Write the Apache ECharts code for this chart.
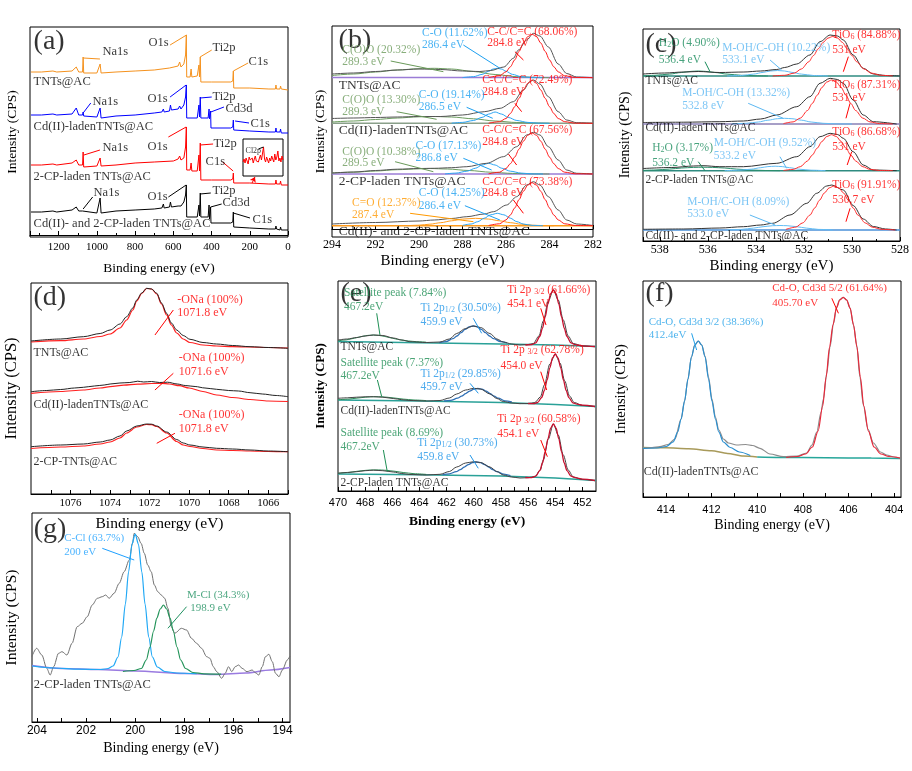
<!DOCTYPE html>
<html><head><meta charset="utf-8">
<script src="https://cdn.jsdelivr.net/npm/echarts@6/dist/echarts.min.js"></script>
<style>html,body{margin:0;padding:0;background:#fff}#c{width:912px;height:771px}</style>
</head><body><div id="c"></div>
<script>
// ---------------- DATA (binding energy eV, intensity a.u.) ----------------
// (a) survey spectra
const surveyTNT = [[1345,163],[1290,163],[1230,164],[1222,166],[1210,163],[1130,164],[1108,168],[1095,163],[1075,163],[1072,178],[1069,162],[1000,162],[990,163],[983,171],[978,162],[900,163],[800,164],[700,165],[620,167],[575,169],[567,173],[560,168],[545,171],[536,180],[532,200],[530,158],[512,158],[507,166],[503,158],[475,159],[468,160],[466,170],[463,158],[461,160],[459,178],[456,153],[400,153],[300,153],[289,154],[286,164],[284,147],[200,147],[100,146],[66,146],[63,150],[60,146],[42,146],[39,149],[35,146],[0,145]];
const surveyCd = [[1345,120],[1290,120],[1230,121],[1222,123],[1210,120],[1130,121],[1108,127],[1095,120],[1075,120],[1072,123],[1069,119],[1000,118],[990,119],[983,127],[978,117],[900,119],[800,120],[700,122],[660,123],[652,126],[648,123],[620,124],[615,130],[610,125],[575,126],[567,129],[560,126],[545,130],[536,138],[532,150],[530,117],[475,117],[468,118],[466,130],[463,118],[461,120],[459,138],[456,117],[418,117],[413,126],[411,116],[407,118],[405,124],[403,107],[300,107],[289,108],[286,115],[284,105],[200,104],[100,103],[66,103],[63,107],[60,103],[42,103],[39,106],[35,102],[0,102]];
const survey2CP = [[1345,70],[1290,70],[1230,71],[1222,73],[1210,70],[1130,72],[1108,75],[1095,70],[1075,70],[1072,83],[1069,68],[1000,69],[990,70],[983,77],[978,69],[900,70],[800,72],[700,73],[600,74],[575,76],[567,79],[560,75],[545,77],[536,88],[532,108],[530,65],[512,65],[507,72],[503,64],[475,64],[468,66],[466,80],[463,64],[461,66],[459,92],[456,55],[400,55],[300,55],[289,56],[286,62],[284,52],[200,52],[100,51],[66,51],[63,55],[60,51],[42,51],[39,54],[35,50],[0,50]];
const surveyCdCP = [[1345,23],[1290,23],[1230,24],[1222,25],[1210,23],[1130,25],[1108,28],[1095,24],[1075,24],[1072,26],[1069,23],[1000,22],[990,23],[983,37],[978,22],[900,24],[800,25],[700,26],[660,27],[652,31],[648,27],[620,28],[615,33],[610,28],[575,29],[567,31],[560,29],[545,33],[536,40],[532,50],[530,18],[475,18],[468,19],[466,30],[463,19],[461,20],[459,42],[456,18],[418,18],[413,30],[411,16],[407,18],[405,28],[403,12],[300,12],[289,13],[286,23],[284,8],[200,7],[100,6],[66,6],[63,9],[60,6],[42,5],[39,8],[35,5],[0,5]];
const insetCl2p = [14,17,13,18,15,12,19,16,14,18,13,17,20,15,16,14,18,21,16,15,29,17,14,19,16,13,18,15,20,17,14,22,16,19,25,15,18,14,20,16];

// (b) C1s
const b1Raw = [[294,155],[293,156],[292,157.5],[291,159],[290,160],[289,159.5],[288,158],[287.2,157.5],[286.7,158.5],[286.1,162],[285.66,170.7],[285.43,179],[285.05,189],[284.74,195.7],[284.44,193],[284.05,182],[283.6,165],[283.21,155.5],[282.75,152],[282,151.3]];
const b1CC = [[286.8,151.5],[286.3,153.2],[286,157.2],[285.8,162.2],[285.6,169.1],[285.4,177.6],[285.2,186],[285,192.4],[284.8,194.7],[284.6,192.4],[284.4,186],[284.2,177.6],[284,169.1],[283.8,162.2],[283.6,157.2],[283.3,153.2],[282.8,151.5],[282,151.3]];
const b1CO = [[288,151.4],[287.5,152.3],[287.1,154.6],[286.8,157.7],[286.6,159.9],[286.4,160.7],[286.2,159.9],[286,157.7],[285.7,154.6],[285.3,152.3],[284.8,151.4],[284.3,151.3]];
const b1COO = [[294,153.5],[293,155],[292,157],[291,159],[290,160.3],[289.3,160.7],[288.5,160],[287.5,157.5],[286.5,154.5],[285.5,152.3],[284.5,151.5],[284,151.3]];
const b2Raw = [[294,110.5],[293,111],[292,111.5],[291,112],[290,112.5],[289,112.5],[288,114],[287,117.3],[286.27,120.7],[285.66,127.3],[285.2,139],[284.9,147.3],[284.74,149],[284.44,145],[284.05,132.3],[283.6,117.3],[283.21,109],[282.75,106.3],[282,105.7]];
const b2CC = [[286.8,105.8],[286.3,107.3],[286,110.5],[285.8,115.5],[285.6,122.3],[285.4,130.7],[285.2,139],[285,145.6],[284.8,149],[284.6,145.6],[284.4,139],[284.2,130.7],[284,122.3],[283.8,115.5],[283.6,110.5],[283.3,107.3],[282.8,105.8],[282,105.7]];
const b2CO = [[288.5,105.8],[288,106.6],[287.5,108.5],[287.1,111.6],[286.8,114.9],[286.5,117],[286.2,114.9],[285.9,111.6],[285.5,108.5],[285,106.6],[284.5,105.8],[284,105.7]];
const b2COO = [[294,107],[293,108],[292,109.5],[291,111],[290,112.2],[289.3,112.5],[288.5,112],[287.5,110.2],[286.5,108],[285.5,106.5],[284.5,105.9],[284,105.7]];
const b3Raw = [[294,56],[293,57],[292,58.5],[291,59.8],[290,60.5],[289.3,60.7],[288.5,61.3],[287.8,62.3],[286.89,65.7],[286.12,72.3],[285.51,82.3],[285.05,94],[284.74,96.7],[284.44,94],[284.05,82.3],[283.6,69],[283.21,59],[282.75,55.7],[282,55]];
const b3CC = [[286.8,55.2],[286.3,56.8],[286,60.5],[285.8,65.3],[285.6,71.9],[285.4,79.9],[285.2,87.8],[285,93.8],[284.8,96],[284.6,93.8],[284.4,87.8],[284.2,79.9],[284,71.9],[283.8,65.3],[283.6,60.5],[283.3,56.8],[282.8,55.2],[282,55]];
const b3CO = [[288.8,55.1],[288.3,55.9],[287.8,57.8],[287.4,60.8],[287.1,64],[286.8,65.7],[286.5,64],[286.2,60.8],[285.8,57.8],[285.3,55.9],[284.8,55.1],[284.3,55]];
const b3COO = [[294,56],[293,56.8],[292,58],[291,59.3],[290,60.2],[289.5,60.5],[288.7,60],[287.7,58.5],[286.7,56.8],[285.7,55.6],[284.7,55.1],[284,55]];
const b4Raw = [[294,5],[292,6.5],[290,8],[289.3,9],[288.5,10.5],[287.8,12.3],[287,15],[286.58,17.3],[285.97,24],[285.51,32.3],[285.05,44],[284.74,47.3],[284.44,44],[284.05,32.3],[283.6,19],[283.21,9],[282.75,5],[282,3.5]];
const b4CC = [[286.8,3.5],[286.3,5.2],[286,9.1],[285.8,14],[285.6,21],[285.4,29.4],[285.2,37.7],[285,44],[284.8,46.3],[284.6,44],[284.4,37.7],[284.2,29.4],[284,21],[283.8,14],[283.6,9.1],[283.3,5.2],[282.8,3.5],[282,3.3]];
const b4CO = [[288,3.6],[287.6,5],[287.3,7.3],[287,10.8],[286.7,14.2],[286.4,15.7],[286.1,14.2],[285.8,10.8],[285.5,7.3],[285.2,5],[284.8,3.6],[284.3,3.3]];
const b4CdO = [[290.5,3.4],[290,3.8],[289.5,4.8],[289,6.3],[288.5,8.2],[288,9.9],[287.4,10.7],[286.8,9.9],[286.3,8.2],[285.8,6.3],[285.3,4.8],[284.8,3.8],[284.3,3.4],[283.8,3.3]];
const bBase = [151.5, 105.7, 55, 3.3];

// (c) O1s
const c1Raw = [[538.7,167],[537.8,168],[537,169],[536.4,169.5],[535.5,168.5],[534.5,169],[533.8,170],[533.13,171.5],[532.8,173.5],[532.3,177],[531.75,186],[531.33,199.3],[530.91,206],[530.6,205],[530.36,201],[529.95,186],[529.53,172.7],[529.11,167],[528.6,165.5],[528,165]];
const c1Ti = [[533.3,165],[532.8,165.7],[532.4,167.9],[532.1,172.1],[531.8,179.2],[531.6,185.5],[531.4,192.3],[531.2,198.6],[531,202.9],[530.8,204.5],[530.6,202.9],[530.4,198.6],[530.2,192.3],[530,185.5],[529.8,179.2],[529.5,172.1],[529.2,167.9],[528.8,165.7],[528.3,165]];
const c1OH = [[535.2,165],[534.6,165.5],[534.1,166.9],[533.7,168.6],[533.4,170],[533.1,170.5],[532.8,170],[532.5,168.6],[532.1,166.9],[531.6,165.5],[531,165]];
const c1H2O = [[538.7,165.2],[538.2,165.7],[537.6,166.9],[537.1,168.5],[536.7,169.6],[536.4,170],[536.1,169.6],[535.7,168.5],[535.2,166.9],[534.6,165.7],[534,165.2],[533.5,165]];
const c2Raw = [[538.7,118.5],[537,118.8],[535.5,119.3],[534.52,120],[533.8,122],[533.13,126],[532.3,134.3],[531.75,144.3],[531.33,157.7],[530.91,162.7],[530.6,161.5],[530.36,157.7],[529.95,141],[529.53,126],[529.11,119.3],[528.14,117]];
const c2Ti = [[532.85,117.4],[532.45,119.1],[532.15,122.9],[531.85,130.5],[531.65,137.6],[531.45,145.7],[531.25,153.5],[531.05,159],[530.85,161],[530.65,159],[530.45,153.5],[530.25,145.7],[530.05,137.6],[529.85,130.5],[529.55,122.9],[529.25,119.1],[528.85,117.4],[528.3,117]];
const c2OH = [[535,117.1],[534.4,117.7],[533.9,119],[533.5,120.8],[533.1,122.3],[532.8,122.7],[532.5,122.3],[532.1,120.8],[531.7,119],[531.2,117.7],[530.6,117.1],[530,117]];
const c3Raw = [[538.7,72.5],[537.5,73.5],[536.6,75],[536.2,75.3],[535.5,74.3],[534.52,74.3],[533.13,77.7],[532.3,84.3],[531.75,94.3],[531.33,104.3],[530.91,107.7],[530.6,106.5],[530.36,102.7],[529.95,89.3],[529.53,76],[529.11,71],[528.14,70.3]];
const c3Ti = [[532.85,70.5],[532.45,71.6],[532.15,74.3],[531.85,80.1],[531.65,86],[531.45,92.8],[531.25,99.5],[531.05,104.5],[530.85,106.3],[530.65,104.5],[530.45,99.5],[530.25,92.8],[530.05,86],[529.85,80.1],[529.55,74.3],[529.25,71.6],[528.85,70.5],[528.3,70.3]];
const c3OH = [[535.3,70.3],[534.7,70.8],[534.2,71.8],[533.8,73.3],[533.5,74.4],[533.2,74.8],[532.9,74.4],[532.6,73.3],[532.2,71.8],[531.7,70.8],[531.1,70.3]];
const c3H2O = [[538.7,70.6],[538.2,71],[537.6,71.9],[537.1,73],[536.6,73.6],[536.2,73.8],[535.8,73.6],[535.3,73],[534.8,71.9],[534.2,71],[533.6,70.5],[533,70.3]];
const c4Raw = [[538.7,11.7],[537,12],[535.5,13],[534.52,14.3],[533.8,16],[533.3,17.7],[532.58,26],[531.88,37.7],[531.47,47.7],[531.05,55],[530.84,56],[530.36,51],[529.95,35.5],[529.53,22],[529.11,14.5],[528.6,12],[528.14,11]];
const c4Ti = [[532.75,11.6],[532.35,13.8],[532.05,18.1],[531.75,25.9],[531.55,33],[531.35,40.8],[531.15,48],[530.95,53.1],[530.75,55],[530.55,53.1],[530.35,48],[530.15,40.8],[529.95,33],[529.75,25.9],[529.45,18.1],[529.15,13.8],[528.75,11.6],[528.2,11]];
const c4OH = [[535.2,11],[534.6,11.6],[534.1,12.9],[533.7,14.3],[533.3,15.3],[533,15.5],[532.7,15.3],[532.3,14.3],[531.9,12.9],[531.4,11.6],[530.8,11]];
const cBase = [165, 117, 70.3, 11];

// (d) Na1s
const d1Raw = [[1078,153],[1076.5,155],[1075.35,157.3],[1074.5,160.5],[1074,164],[1073.5,170],[1073.16,177.3],[1072.85,186],[1072.65,194],[1072.4,201],[1072.15,205.7],[1071.9,205],[1071.64,200.7],[1071.4,191],[1071.14,180.7],[1070.9,171],[1070.63,164],[1070.3,158.5],[1069.96,154.7],[1069.3,151.5],[1068.61,150],[1067.8,148.5],[1066.92,147.3],[1066,146.5],[1065,145.7]];
const d1Fit = [[1078,152],[1076.5,153.3],[1075.35,155],[1074.5,157.5],[1074,160],[1073.5,166],[1073.16,174],[1072.85,184],[1072.65,193],[1072.4,200.5],[1072.15,205.5],[1071.9,205],[1071.64,200],[1071.4,190],[1071.14,179],[1070.9,169],[1070.63,161],[1070.3,155],[1069.96,151.5],[1069.3,149],[1068.61,148],[1067.8,147.3],[1066.92,147],[1066,146.5],[1065,146]];
const d2Raw = [[1078,102.3],[1077.2,103.5],[1076.5,104.5],[1075.8,106],[1075.35,106.7],[1074.8,108],[1074.3,109],[1074,110],[1073.5,111],[1073,111.5],[1072.6,112.8],[1072.3,112],[1071.9,112.5],[1071.5,111.5],[1071.1,111.8],[1070.6,110],[1070.2,108.5],[1069.7,107.5],[1069.2,106],[1068.61,104.7],[1068,103.5],[1067.5,103],[1066.92,101.3],[1066.3,100],[1065.6,98.5],[1065,97.3]];
const d2Fit = [[1078,100.7],[1076.5,102.5],[1075.35,104],[1074.5,106],[1074,107.3],[1073.3,108.8],[1072.6,109.8],[1071.9,110.5],[1071.4,110.7],[1071,110],[1070.5,108.3],[1070,106],[1069.3,102.5],[1068.61,99],[1067.8,96.5],[1066.92,94.5],[1066,93],[1065,92.5]];
const d3Raw = [[1078,47.3],[1076.5,49],[1075.35,50],[1074.5,52],[1074,54],[1073.5,58],[1073.16,63],[1072.65,68],[1072.15,70],[1071.9,69.8],[1071.64,68],[1071.14,62],[1070.63,54.5],[1070.3,51],[1069.96,49],[1069.3,47],[1068.61,45.7],[1067.8,45],[1066.92,44],[1066,43],[1065,42.3]];
const d3Fit = [[1078,45.5],[1076.5,47],[1075.35,48],[1074.5,50],[1074,52],[1073.5,56],[1073.16,61],[1072.65,67],[1072.15,69.5],[1071.9,69.3],[1071.64,67.5],[1071.14,61],[1070.63,52.5],[1070.3,49],[1069.96,47.5],[1069.3,45.5],[1068.61,44],[1067.8,43.5],[1066.92,43],[1066,42.5],[1065,42.3]];

// (e) Ti2p
const e1Raw = [[470,151],[469.3,152],[468.63,153.5],[468,155],[467.4,156],[466.7,155.5],[465.93,153],[465.3,151],[464.7,149.3],[463.5,148.5],[462.49,149],[461.8,152],[461.26,157.5],[460.6,162.5],[460.04,165],[459.5,163.5],[458.81,157.5],[458.3,152],[457.83,149],[457.2,147],[456.6,146],[456,146.5],[455.62,147.5],[455.2,155],[454.88,170],[454.51,190],[454.14,201],[453.78,191],[453.41,171],[453.05,155],[452.67,147.5],[452,145],[451.07,144.3]];
const e1P32 = [[456.2,146],[455.74,146.3],[455.44,148.2],[455.14,154.5],[454.94,162.8],[454.74,174.3],[454.54,187.1],[454.34,197.3],[454.14,201],[453.94,197.3],[453.74,187.1],[453.54,174.3],[453.34,162.8],[453.14,154.5],[452.84,148.2],[452.54,146.3],[452,145.2],[451.07,144.5]];
const e1P12 = [[462.54,148.3],[462.04,149.4],[461.54,152.3],[461.24,155],[460.94,158.3],[460.64,161.6],[460.34,164.1],[460.04,165],[459.74,164.1],[459.44,161.6],[459.14,158.3],[458.84,155],[458.54,152.3],[458.04,149.4],[457.54,148]];
const e1Sat = [[470,150.1],[469.4,151.1],[469,152.2],[468.6,153.4],[468.2,154.7],[467.8,155.6],[467.4,156],[467,155.6],[466.6,154.7],[466.2,153.4],[465.8,152.2],[465.4,151.1],[464.8,150],[464.2,149.3],[463.5,148.8]];
const e1Base = [[470,149.5],[464,148.3],[458,147],[454,146],[451,144.5]];
const e2Raw = [[470,92.7],[469.3,93.2],[468.63,93.8],[468,94.2],[467.4,94.3],[466.7,93.8],[465.93,92.5],[465.3,91.3],[464.7,90.5],[463.5,90],[462.49,90.5],[461.8,93],[461.26,97],[460.6,101],[460,102.7],[459.5,102],[458.81,97],[458.3,92.5],[457.83,89.5],[457.2,88],[456.6,87.3],[456,87.5],[455.5,88.5],[455.1,94],[454.8,106],[454.4,127],[454,137],[453.65,128],[453.3,110],[452.95,95],[452.6,88.5],[452,85.5],[451.07,84.3]];
const e2P32 = [[456,87.5],[455.6,87.3],[455.3,88.5],[455,93.5],[454.8,100.5],[454.6,111.1],[454.4,123.2],[454.2,133.1],[454,137],[453.8,133.1],[453.6,123.2],[453.4,111.1],[453.2,100.5],[453,93.3],[452.7,88.2],[452.4,86.8],[452,85.8],[451.07,84.5]];
const e2P12 = [[462.2,90],[461.7,90.6],[461.2,92.8],[460.9,94.8],[460.6,97.4],[460.3,99.9],[460,101.8],[459.7,102.5],[459.4,101.8],[459.1,99.9],[458.8,97.4],[458.5,94.8],[458.2,92.8],[457.7,90.2],[457.2,89]];
const e2Sat = [[470,91.2],[469.2,91.9],[468.6,92.9],[468,93.8],[467.6,94.2],[467.2,94.3],[466.8,94.2],[466.4,93.8],[465.8,92.9],[465.2,91.9],[464.4,91],[463.5,90.4]];
const e2Base = [[470,91],[464,90],[458,88.5],[454,86.5],[451,84.5]];
const e3Raw = [[470,17.7],[469.3,18.5],[468.63,19.3],[468,20.3],[467.4,20.8],[466.7,20.3],[465.93,19],[465.3,17.5],[464.7,16.5],[463.5,16],[462.49,16.7],[461.8,19.5],[461.26,24],[460.6,28],[460,29.3],[459.5,28.5],[458.81,24],[458.3,19.5],[457.83,16],[457.2,14],[456.6,13],[456,13.3],[455.5,14.5],[455.1,21],[454.88,31],[454.51,52],[454.14,67],[453.78,56],[453.41,36],[453.05,21],[452.67,14],[452,11.5],[451.07,10.3]];
const e3P32 = [[456.2,13.5],[455.74,13.3],[455.44,14.8],[455.14,20.3],[454.94,28],[454.74,39.3],[454.54,52.2],[454.34,62.8],[454.14,67],[453.94,62.8],[453.74,52.2],[453.54,39.3],[453.34,28],[453.14,20.3],[452.84,14.8],[452.54,13.3],[452,11.8],[451.07,10.5]];
const e3P12 = [[462.3,16.4],[461.8,17.2],[461.3,19.3],[461,21.3],[460.7,23.9],[460.4,26.4],[460.1,28.3],[459.8,29],[459.5,28.3],[459.2,26.4],[458.9,23.9],[458.6,21.3],[458.3,19.3],[457.8,16.8],[457.3,15.3]];
const e3Sat = [[470,17.8],[469.2,18.6],[468.6,19.7],[468,20.6],[467.6,21],[467.2,21.1],[466.8,21],[466.4,20.6],[465.8,19.7],[465.2,18.5],[464.4,17.3],[463.5,16.6]];
const e3Base = [[470,17],[464,16.3],[458,15],[454,13],[451,10.5]];

// (f) Cd3d
const fRaw = [[415,48.7],[414.6,49.3],[414.26,50.3],[413.9,52.5],[413.6,58],[413.33,78],[413.18,96],[413.03,118],[412.88,140],[412.73,152],[412.58,156],[412.43,152],[412.28,141],[412.13,120],[411.98,98],[411.83,80],[411.68,67],[411.48,58],[411.26,54],[410.9,52],[410.5,52.5],[410.2,51.5],[409.88,48.7],[409.44,43],[408.85,40.3],[408.27,40.8],[407.83,44],[407.6,52],[407.39,65],[407.2,85],[407.1,98],[406.95,124],[406.81,150],[406.65,174],[406.52,190],[406.38,197.5],[406.23,199.7],[406.08,197],[405.93,189],[405.78,172],[405.64,152],[405.5,120],[405.35,92],[405.15,68],[404.91,54],[404.6,45],[404.33,42],[404,40],[403.74,38.7]];
const fCd52 = [[408.73,39.5],[408.23,40.5],[407.88,43],[407.58,50],[407.33,66],[407.13,91],[406.98,120],[406.83,150],[406.68,172],[406.53,189],[406.38,197],[406.23,199.7],[406.08,197],[405.93,189],[405.78,172],[405.63,150],[405.48,120],[405.33,91],[405.13,66],[404.88,50],[404.58,43],[404.23,40.5],[403.74,39]];
const fCd32 = [[415,48.7],[414.38,49],[413.98,50.5],[413.68,55],[413.48,65],[413.33,78],[413.18,96],[413.03,118],[412.88,140],[412.73,152],[412.58,156],[412.43,152],[412.28,140],[412.13,118],[411.98,96],[411.83,78],[411.68,65],[411.48,55],[411.18,49.5],[410.78,45],[410.3,41.5]];
const fBaseHigh = [[415,49.5],[414,49.2],[413,48.3],[412,46.3],[411.3,43.5],[410.6,41],[410,40]];
const fBaseLow = [[410,40],[409,39.6],[407,39.3],[405,38.9],[403.74,38.6]];

// (g) Cl2p
const gRaw = [[204.21,65.3],[204.01,73.7],[203.8,67],[203.6,53.7],[203.46,47],[203.32,55.3],[203.12,68.7],[202.98,70.3],[202.78,67],[202.57,78.7],[202.36,95.3],[202.16,98.7],[201.95,105.3],[201.75,117],[201.54,123.7],[201.34,125.3],[201.2,127],[201.06,123.7],[200.86,128.7],[200.65,138.7],[200.45,150.3],[200.24,162],[200.11,178.7],[200.04,188.7],[199.9,185.3],[199.76,178.7],[199.63,168.7],[199.49,157],[199.35,150.3],[199.22,137],[199.08,130.3],[198.94,127],[198.8,123.7],[198.67,113.7],[198.53,95.3],[198.39,88.7],[198.12,93.7],[197.91,92],[197.71,83.7],[197.5,78.7],[197.3,73.7],[197.09,65.3],[196.96,63.7],[196.82,55.3],[196.68,50.3],[196.48,43.7],[196.34,48.7],[196.2,55.3],[196.07,50.3],[195.93,55.3],[195.79,57],[195.65,53.7],[195.45,50.3],[195.24,52],[195.11,49.3],[194.97,47],[194.83,55.3],[194.7,65.3],[194.56,67.7],[194.42,60.3],[194.29,48.7],[194.15,45.3],[194.01,52],[193.81,62],[193.7,66]];
const gCCl = [[204.2,56],[203.3,54],[202.3,52.8],[201.4,52.5],[201.1,53.5],[200.9,56],[200.7,65],[200.55,85],[200.4,118],[200.27,150],[200.13,178],[200,188],[199.87,178],[199.73,150],[199.6,118],[199.45,85],[199.3,65],[199.1,55],[198.8,50.5],[198.3,49],[197.5,48.3]];
const gMCl = [[200.5,50.5],[200.05,51.5],[199.75,53.5],[199.55,62],[199.4,75],[199.25,91],[199.12,104],[198.98,113],[198.85,117],[198.72,113],[198.58,104],[198.45,91],[198.3,75],[198.15,62],[197.95,53.5],[197.65,49.5],[197.2,48.2],[196.5,47.8]];
const gBase = [[204.2,56.5],[203,53.5],[201.5,52.5],[200,51],[198,48.5],[196.7,47.5],[195.5,49],[194.5,52],[193.7,54.5]];

// tick labels
const ticksD = [1066,1068,1070,1072,1074,1076];
const ticksE = [452,454,456,458,460,462,464,466,468,470];
const ticksF = [404,406,408,410,412,414];
const ticksG = [194,196,198,200,202,204];

// ---------------- ANNOTATIONS (text, x, y, colour key, size) ----------------
const annA = [['(a)',1334,193,'k',28],['Na1s',973,183,'k'],['O1s',733,192,'k'],['Ti2p',398,187,'k'],['C1s',209,173,'k'],['TNTs@AC',1334,153,'k'],
 ['Na1s',1026,133,'k'],['O1s',738,136,'k'],['Ti2p',398,138,'k'],['Cd3d',330,126,'k'],['C1s',199,111,'k'],['Cd(II)-ladenTNTs@AC',1334,108,'k'],
 ['Na1s',973,87,'k'],['O1s',738,88,'k'],['Ti2p',392,91,'k'],['C1s',434,73,'k'],['2-CP-laden TNTs@AC',1334,58,'k'],
 ['Na1s',1020,42,'k'],['O1s',738,38,'k'],['Ti2p',398,44,'k'],['Cd3d',345,32,'k'],['C1s',188,15,'k'],['Cd(II)- and 2-CP-laden TNTs@AC',1334,11,'k']];
const leadA = [[984,176,1071,177,'o'],[617,190,531,200,'o'],[399,185,460,178,'o'],[209,172,286,164,'o'],
 [1032,132,1072,122,'sb'],[617,138,533,150,'sb'],[399,138,460,137,'sb'],[335,128,404,123,'sb'],[204,112,277,114,'sb'],
 [984,85,1068,80,'r'],[626,98,533,108,'r'],[392,91,460,90,'r'],[342,73,287,64,'r'],
 [1022,38,1072,26,'k'],[626,38,533,50,'k'],[404,42,460,41,'k'],[347,31,405,28,'k'],[199,17,286,22,'k']];
const annInset = [['Cl2p',2,25,'k',8]];
const leadInset = [[15,27,20,29,'k']];
const arrowA = [[188,52,173,58,'r']];

const annB = [['(b)',293.72,188,'k',28],['C(O)O (20.32%)',293.55,179,'bg'],['289.3 eV',293.55,167.3,'bg'],['C-O (11.62%)',289.88,196.3,'bb'],['286.4 eV',289.88,184,'bb'],
 ['C-C/C=C (68.06%)',286.89,197.3,'r'],['284.8 eV',286.89,185.7,'r'],['TNTs@AC',293.71,144,'k',13.5],
 ['C-C/C=C (72.49%)',287.12,149,'r'],['284.8 eV',287.12,137.3,'r'],['C(O)O (13.30%)',293.55,129,'bg'],['289.3 eV',293.55,117.3,'bg'],['C-O (19.14%)',290.03,134,'bb'],['286.5 eV',290.03,121.7,'bb'],['Cd(II)-ladenTNTs@AC',293.71,99,'k',13.5],
 ['C-C/C=C (67.56%)',287.12,99,'r'],['284.8 eV',287.12,87.3,'r'],['C(O)O (10.38%)',293.55,77.3,'bg'],['289.5 eV',293.55,65.7,'bg'],['C-O (17.13%)',290.18,83.3,'bb'],['286.8 eV',290.18,70.7,'bb'],['2-CP-laden TNTs@AC',293.71,47.3,'k',13.5],
 ['C-C/C=C (73.38%)',287.12,47.3,'r'],['284.8 eV',287.12,35.7,'r'],['C=O (12.37%)',293.1,26.3,'bo'],['287.4 eV',293.1,14,'bo'],['C-O (14.25%)',290.03,35.7,'bb'],['286.4 eV',290.03,23.3,'bb'],['Cd(II)- and 2-CP-laden TNTs@AC',293.71,-2,'k',13.5]];
const leadB = [[291.3,168,288.88,157.3,'bg'],[287.96,184,286.28,160.7,'bb'],[285.59,177.3,285.2,169,'r'],
 [285.59,125.7,285.28,117.3,'r'],[291.03,117.3,289.19,109.7,'bg'],[287.81,121.7,286.61,110.7,'bb'],
 [285.89,75,285.51,64,'r'],[291.1,67.3,289.34,57.3,'bg'],[287.96,70.7,286.66,59,'bb'],
 [285.66,29,285.2,15.7,'r'],[290.41,15.7,287.5,7.3,'bo'],[287.89,23.3,286.28,9,'bb']];

const annC = [['(c)',538.62,196,'k',28],['H_{2}O (4.90%)',538.06,197.7,'cg'],['536.4 eV',538.06,181,'cg'],['M-OH/C-OH (10.22%)',535.42,192.7,'cb'],['533.1 eV',535.42,181,'cb'],
 ['TiO_{6} (84.88%)',530.84,206,'r'],['531 eV',530.84,191,'r'],['TNTs@AC',538.62,160.3,'k'],
 ['TiO_{6} (87.31%)',530.84,156,'r'],['531 eV',530.84,142.7,'r'],['M-OH/C-OH (13.32%)',537.09,147.7,'cb'],['532.8 eV',537.09,135,'cb'],['Cd(II)-ladenTNTs@AC',538.62,112.7,'k'],
 ['TiO_{6} (86.68%)',530.84,108.7,'r'],['531 eV',530.84,94.3,'r'],['H_{2}O (3.17%)',538.34,92.7,'cg'],['536.2 eV',538.34,77.7,'cg'],['M-OH/C-OH (9.52%)',535.77,97.7,'cb'],['533.2 eV',535.77,85,'cb'],['2-CP-laden TNTs@AC',538.62,61,'k'],
 ['TiO_{6} (91.91%)',530.84,56,'r'],['530.7 eV',530.84,41,'r'],['M-OH/C-OH (8.09%)',536.88,38.7,'cb'],['533.0 eV',536.88,26.7,'cb'],['Cd(II)- and 2-CP-laden TNTs@AC',538.62,5,'k']];
const leadC = [[536.12,179.3,535.91,169.3,'cg'],[533.41,181,532.93,171,'cb'],[530.15,184.3,530.36,169.3,'r'],
 [530.08,137.7,530.25,122.7,'r'],[534.32,137.7,532.86,122.7,'cb'],
 [530.01,89.3,530.2,76,'r'],[536.4,79.3,536.12,70.3,'cg'],[533,84.3,532.72,72.7,'cb'],
 [530.08,32.7,530.25,19.3,'r'],[534.25,26,533.2,16,'cb']];

const annD = [['(d)',1077.9,196,'k',28],['-ONa (100%)',1070.63,194,'r'],['1071.8 eV',1070.63,180.7,'r'],['TNTs@AC',1077.9,141.3,'k'],
 ['-ONa (100%)',1070.55,135.7,'r'],['1071.6 eV',1070.55,122.3,'r'],['Cd(II)-ladenTNTs@AC',1077.9,89,'k'],
 ['-ONa (100%)',1070.55,79,'r'],['1071.8 eV',1070.55,64.7,'r'],['2-CP-TNTs@AC',1077.9,32.3,'k']];
const leadD = [[1070.8,184,1071.73,159,'r'],[1070.8,120.7,1071.73,104,'r'],[1070.72,60.7,1071.64,50.7,'r']];

const annE = [['(e)',469.85,197.7,'k',28],['Satellite peak (7.84%)',469.6,197.7,'eg'],['467.2eV',469.6,184.3,'eg'],['Ti 2p_{1/2} (30.50%)',463.96,182.7,'eb'],['459.9 eV',463.96,169.3,'eb'],
 ['Ti 2p _{3/2} (61.66%)',457.58,201,'r'],['454.1 eV',457.58,187,'r'],['TNTs@AC',469.85,144.3,'k'],
 ['Satellite peak (7.37%)',469.85,128.3,'eg'],['467.2eV',469.85,115,'eg'],['Ti 2p_{1/2} (29.85%)',463.96,116.7,'eb'],['459.7 eV',463.96,103.7,'eb'],['Ti 2p _{3/2} (62.78%)',458.07,141,'r'],['454.0 eV',458.07,125,'r'],['Cd(II)-ladenTNTs@AC',469.85,80.3,'k'],
 ['Satellite peak (8.69%)',469.85,57.7,'eg'],['467.2eV',469.85,44.3,'eg'],['Ti 2p_{1/2} (30.73%)',464.2,47.7,'eb'],['459.8 eV',464.2,34.3,'eb'],['Ti 2p _{3/2} (60.58%)',458.31,71.7,'r'],['454.1 eV',458.31,57,'r'],['2-CP-laden TNTs@AC',469.85,7.7,'k']];
const leadE = [[467.15,177.7,466.91,156,'eg'],[460.04,172.7,459.42,157.7,'eb'],[455.07,182.7,454.68,166,'r'],
 [467.1,111,466.78,94.3,'eg'],[460.28,107.7,459.67,97.7,'eb'],[455.07,119.3,454.63,101,'r'],
 [466.66,41,466.37,19.3,'eg'],[460.28,36,459.67,22.7,'eb'],[455.07,51,454.58,34.3,'r']];

const annF = [['(f)',414.91,203.7,'k',28],['Cd-O, Cd3d 5/2 (61.64%)',409.36,208.7,'r'],['405.70 eV',409.36,193.7,'r'],['Cd-O, Cd3d 3/2 (38.36%)',414.77,175.3,'fb'],['412.4eV',414.77,162,'fb'],['Cd(II)-ladenTNTs@AC',414.99,25.3,'k',12]];
const leadF = [[406.73,198.7,406.44,183.7,'r'],[412.87,163.7,412.65,147,'fb']];

const annG = [['(g)',204.15,192,'k',28],['C-Cl (63.7%)',202.91,183.7,'gb'],['200 eV',202.91,170.3,'gb'],['M-Cl (34.3%)',197.91,127,'gg'],['198.9 eV',197.78,114.3,'gg'],['2-CP-laden TNTs@AC',204.15,37,'k',12.5]];
const leadG = [[201.34,173.7,200.04,162,'gb'],[197.91,115.3,198.67,93.7,'gg']];

// ---------------- STYLE ----------------
const SERIF = '"Liberation Serif","Times New Roman",serif';
const SANS = '"Liberation Sans",Arial,sans-serif';
const COL = {k:'#000000',o:'#f5921e',sb:'#0000ff',r:'#ff0000',bg:'#6a9a5a',bb:'#1ea0f0',bo:'#ff9900',cg:'#1a8c5c',cb:'#5cb8f2',eg:'#1f8f55',eb:'#2196e8',fb:'#22a0e8',gb:'#1ea0ff',gg:'#1f9060'};

const grids = [
  {left:30, top:27, width:258, height:210},
  {left:332, top:26, width:261, height:211},
  {left:643, top:29, width:257, height:212},
  {left:31, top:283, width:257, height:211},
  {left:338, top:281, width:258, height:210},
  {left:643, top:281, width:258, height:216},
  {left:32, top:513, width:258, height:209},
  {left:243, top:139, width:40, height:37}
].map(g => Object.assign({show:true, borderColor:'#000', borderWidth:1, backgroundColor:'transparent'}, g));

function xAxis(gi, min, max, o) {
  const ax = {
    gridIndex:gi, type:'value', min, max, inverse:true,
    axisLine:{show:true, lineStyle:{color:'#000', width:1}},
    axisTick:{show:true, inside:true, length:4, lineStyle:{color:'#000'}},
    axisLabel:{color:'#000', fontFamily:o.lf||SERIF, fontSize:o.ls||11, margin:o.lm||5, formatter: v => String(v)},
    splitLine:{show:false},
    name:'Binding energy (eV)', nameLocation:'middle', nameGap:o.ng,
    nameTextStyle:{color:'#000', fontFamily:SERIF, fontSize:o.ns||14, fontWeight:o.nb?'bold':'normal', padding:o.np||0}
  };
  if (o.interval) { ax.interval = o.interval; ax.minorTick = {show:true, splitNumber:2, length:2, lineStyle:{color:'#000'}}; }
  if (o.labels) { ax.axisLabel.customValues = o.labels; ax.axisTick.customValues = o.tickv || o.labels; }
  if (o.hideMax) ax.axisLabel.showMaxLabel = false;
  return ax;
}
function yAxis(gi, min, max, o) {
  return {gridIndex:gi, type:'value', min, max,
    axisLine:{show:false}, axisTick:{show:false}, axisLabel:{show:false}, splitLine:{show:false},
    name:'Intensity (CPS)', nameLocation:'middle', nameGap:o.ng,
    nameTextStyle:{color:'#000', fontFamily:SERIF, fontSize:o.ns||14, fontWeight:o.nb?'bold':'normal'}};
}
function ints(a, b) { const r=[]; for (let v=a; v<=b; v++) r.push(v); return r; }

const xAxes = [
  xAxis(0, 0, 1350, {interval:200, hideMax:true, ls:11, lm:5, ng:24, ns:13.5}),
  xAxis(1, 282, 294, {interval:2, ls:12, lm:2, ng:17, ns:15, np:[0,40,0,0]}),
  xAxis(2, 528, 538.7, {interval:2, hideMax:true, ls:12, lm:3, ng:18, ns:15}),
  xAxis(3, 1065, 1078, {labels:ticksD, tickv:ints(1065,1077), ls:11, lm:4, ng:22, ns:15.5}),
  xAxis(4, 451, 470, {labels:ticksE, tickv:ints(452,470), lf:SANS, ls:11, lm:6, ng:24, ns:13.5, nb:true}),
  xAxis(5, 403.7, 415, {labels:ticksF, tickv:ints(404,415), lf:SANS, ls:11, lm:7, ng:21, ns:14}),
  xAxis(6, 193.7, 204.2, {labels:ticksG, tickv:ints(194,204), lf:SANS, ls:12, lm:3, ng:19, ns:14}),
  {gridIndex:7, type:'value', min:0, max:39, show:false}
];
const yAxes = [
  yAxis(0, -2, 208, {ng:11, ns:13.5}),
  yAxis(1, -8, 203, {ng:5, ns:13.5}),
  yAxis(2, 0, 212, {ng:11, ns:14}),
  yAxis(3, 0, 211, {ng:11, ns:16.5}),
  yAxis(4, 0, 210, {ng:11, ns:13, nb:true}),
  yAxis(5, 0, 216, {ng:14, ns:14.5}),
  yAxis(6, 0, 209, {ng:12, ns:15.5}),
  {gridIndex:7, type:'value', min:0, max:37, show:false}
];

const series = [];
function line(gi, data, color, width, smooth, z) {
  series.push({type:'line', xAxisIndex:gi, yAxisIndex:gi, data, symbol:'none', showSymbol:false,
    smooth: smooth ? 0.3 : false, smoothMonotone: smooth ? 'x' : undefined,
    lineStyle:{color, width:width||1}, itemStyle:{color}, z:z||2, silent:true, animation:false});
}
function hline(gi, y, x0, x1, color, width) { line(gi, [[x0,y],[x1,y]], color, width||1.5, false, 1); }
function ann(gi, list, size, family, weight) {
  series.push({type:'scatter', xAxisIndex:gi, yAxisIndex:gi, symbol:'circle', symbolSize:1,
    itemStyle:{color:'rgba(0,0,0,0)'}, clip:false, silent:true, z:10, animation:false,
    data: list.map(a => ({value:[a[1],a[2]], name:a[0].replace(/_\{([^}]*)\}/g, '{sub|$1}'),
      label:{color:COL[a[3]], fontSize:a[4]||size}})),
    label:{show:true, position:'right', distance:0, fontFamily:family||SERIF, fontWeight:weight||'normal',
      formatter:p => p.name, rich:{sub:{fontSize:8, verticalAlign:'bottom', fontFamily:family||SERIF}}},
    labelLayout:{hideOverlap:false}});
}
function leaders(gi, list, arrow) {
  series.push({type:'lines', coordinateSystem:'cartesian2d', xAxisIndex:gi, yAxisIndex:gi, silent:true, z:9,
    symbol: arrow ? ['none','arrow'] : 'none', symbolSize: arrow ? 5 : 0,
    lineStyle:{width:1, opacity:1, curveness:0},
    data: list.map(l => ({coords:[[l[0],l[1]],[l[2],l[3]]], lineStyle:{color:COL[l[4]]}}))});
}

// (a)
line(0, surveyTNT, '#f5921e', 1);
line(0, surveyCd, '#0000ff', 1);
line(0, survey2CP, '#ff0000', 1);
line(0, surveyCdCP, '#000000', 1);
ann(0, annA, 12.5);
leaders(0, leadA);
leaders(0, arrowA, true);
line(7, insetCl2p.map((v,i)=>[i,v]), '#ff0000', 1);
ann(7, annInset, 8);
leaders(7, leadInset);

// (b)
const bPurple = '#9b7cd6';
hline(1, bBase[0], 294, 282, bPurple); hline(1, bBase[1], 294, 282, '#8aa08a'); hline(1, bBase[2], 294, 282, bPurple); hline(1, bBase[3], 294, 282, '#ff9a1a');
[[b1Raw,b1CC,b1CO,b1COO,'#6b9c5e'],[b2Raw,b2CC,b2CO,b2COO,'#6b9c5e'],[b3Raw,b3CC,b3CO,b3COO,'#6b9c5e'],[b4Raw,b4CC,b4CO,b4CdO,'#ff9a1a']].forEach(s => {
  line(1, s[3], s[4], 1, true); line(1, s[2], '#2aa5f5', 1, true); line(1, s[0], '#555555', 1, true); line(1, s[1], '#ff1a1a', 1, true);
});
ann(1, annB, 11.5);
leaders(1, leadB);

// (c)
hline(2, cBase[0], 538.7, 528, '#2e8b80'); hline(2, cBase[1], 538.7, 528, '#8a7fb5'); hline(2, cBase[2], 538.7, 528, '#2e8b80'); hline(2, cBase[3], 538.7, 528, '#4a90d9');
[[c1Raw,c1Ti,c1OH,c1H2O],[c2Raw,c2Ti,c2OH,null],[c3Raw,c3Ti,c3OH,c3H2O],[c4Raw,c4Ti,c4OH,null]].forEach(s => {
  if (s[3]) line(2, s[3], '#2a8f6a', 1, true);
  line(2, s[2], '#62bdf5', 1, true); line(2, s[0], '#333333', 1, true); line(2, s[1], '#ff2a2a', 1, true);
});
ann(2, annC, 11.5);
leaders(2, leadC);

// (d)
[[d1Raw,d1Fit],[d2Raw,d2Fit],[d3Raw,d3Fit]].forEach(s => { line(3, s[1], '#ff2020', 1.2, true); line(3, s[0], '#222222', 1, true); });
ann(3, annD, 12);
leaders(3, leadD);

// (e)
[[e1Raw,e1P32,e1P12,e1Sat,e1Base],[e2Raw,e2P32,e2P12,e2Sat,e2Base],[e3Raw,e3P32,e3P12,e3Sat,e3Base]].forEach(s => {
  line(4, s[4], '#2aa198', 1.5, false, 1); line(4, s[3], '#2e8b57', 1, true); line(4, s[2], '#2f6fb5', 1.3, true);
  line(4, s[0], '#444444', 1, true); line(4, s[1], '#c8102e', 1.3, true);
});
ann(4, annE, 11.5);
leaders(4, leadE);

// (f)
line(5, fBaseHigh, '#a89a5a', 1.5, true, 1); line(5, fBaseLow, '#26a69a', 1.5, true, 1);
line(5, fRaw, '#8c8c8c', 1.2, true); line(5, fCd32, '#2a8fd0', 1.2, true); line(5, fCd52, '#e8283a', 1.2, true);
ann(5, annF, 11);
leaders(5, leadF);

// (g)
line(6, gBase, '#9a7be0', 1.5, true, 1);
line(6, gRaw, '#707070', 1, true); line(6, gCCl, '#20a8f5', 1.2, true); line(6, gMCl, '#24945a', 1.2, true);
ann(6, annG, 11);
leaders(6, leadG);

const chart = echarts.init(document.getElementById('c'), null, {renderer:'canvas'});
chart.setOption({animation:false, backgroundColor:'#ffffff', grid:grids, xAxis:xAxes, yAxis:yAxes, series});
</script></body></html>
